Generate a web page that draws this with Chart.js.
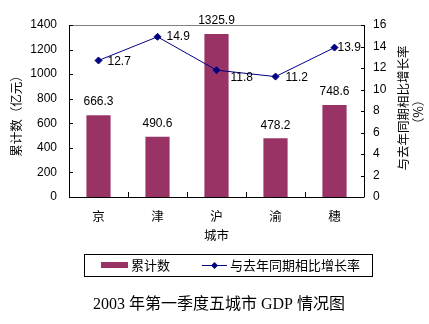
<!DOCTYPE html>
<html>
<head>
<meta charset="utf-8">
<script src="https://cdn.jsdelivr.net/npm/chart.js@4/dist/chart.umd.min.js"></script>
<style>
  html, body { margin: 0; padding: 0; background: #fff; }
  #c { display: block; }
</style>
</head>
<body>
<canvas id="c" width="429" height="324"></canvas>
<script>
// Five-city GDP, first quarter 2003
const cities = ['京', '津', '沪', '渝', '穗'];
const totals = [666.3, 490.6, 1325.9, 478.2, 748.6];      // 亿元
const growth = [12.7, 14.9, 11.8, 11.2, 13.9];            // %
const leftTicks = [0, 200, 400, 600, 800, 1000, 1200, 1400];
const rightTicks = [0, 2, 4, 6, 8, 10, 12, 14, 16];

const NUM_FONT = '"Liberation Sans", Arial, sans-serif';
const CJK_FONT = '"Noto Sans CJK SC", "Liberation Sans", sans-serif';
const BAR_COLOR = '#993366';
const LINE_COLOR = '#000080';

// label nudges for the growth-rate line (dx, dy from the point)
const lineLabelShift = [[9, 1], [9, 0], [14, 8], [10, 1], [3, 0]];

const decorations = {
  id: 'decorations',
  afterDraw(chart) {
    const ctx = chart.ctx;
    const a = chart.chartArea;
    const x = chart.scales.x, yl = chart.scales.y, yr = chart.scales.y1;
    ctx.save();

    // top border of the plot
    ctx.strokeStyle = '#808080';
    ctx.lineWidth = 1;
    ctx.beginPath();
    ctx.moveTo(a.left, a.top + 0.5);
    ctx.lineTo(a.right, a.top + 0.5);
    ctx.stroke();

    // axis lines and inward tick marks
    ctx.strokeStyle = '#000';
    ctx.beginPath();
    ctx.moveTo(a.left + 0.5, a.top);
    ctx.lineTo(a.left + 0.5, a.bottom + 0.5);
    ctx.lineTo(a.right + 0.5, a.bottom + 0.5);
    ctx.moveTo(a.right + 0.5, a.top);
    ctx.lineTo(a.right + 0.5, a.bottom);
    leftTicks.forEach(v => {
      const py = Math.round(yl.getPixelForValue(v)) + 0.5;
      ctx.moveTo(a.left, py); ctx.lineTo(a.left + 4, py);
    });
    rightTicks.forEach(v => {
      const py = Math.round(yr.getPixelForValue(v)) + 0.5;
      ctx.moveTo(a.right - 3, py); ctx.lineTo(a.right, py);
    });
    for (let i = 1; i < cities.length; i++) {
      const px = Math.round((x.getPixelForValue(i - 1) + x.getPixelForValue(i)) / 2) + 0.5;
      ctx.moveTo(px, a.bottom); ctx.lineTo(px, a.bottom - 5);
    }
    ctx.stroke();

    // value labels
    ctx.fillStyle = '#000';
    ctx.font = '12px ' + NUM_FONT;
    ctx.textBaseline = 'middle';
    ctx.textAlign = 'center';
    chart.getDatasetMeta(0).data.forEach((bar, i) => {
      ctx.fillText(totals[i].toFixed(1), bar.x, bar.y - 13);
    });
    ctx.textAlign = 'left';
    chart.getDatasetMeta(1).data.forEach((pt, i) => {
      const s = lineLabelShift[i];
      ctx.fillText(growth[i].toFixed(1), pt.x + s[0], pt.y + s[1]);
    });

    // axis titles
    const midY = (a.top + a.bottom) / 2;
    ctx.font = '12.5px ' + CJK_FONT;
    ctx.textAlign = 'center';
    ctx.save();
    ctx.translate(16, midY + 2);
    ctx.rotate(-Math.PI / 2);
    ctx.fillText('累计数（亿元）', 0, 0);
    ctx.restore();
    ctx.save();
    ctx.translate(403, midY - 3);
    ctx.rotate(-Math.PI / 2);
    ctx.fillText('与去年同期相比增长率', 0, 0);
    ctx.restore();
    ctx.save();
    ctx.translate(418, midY + 1);
    ctx.rotate(-Math.PI / 2);
    ctx.fillText('（%）', 0, 0);
    ctx.restore();
    ctx.fillText('城市', (a.left + a.right) / 2, 235);

    // legend box
    ctx.font = '13px ' + CJK_FONT;
    ctx.strokeStyle = '#000';
    ctx.strokeRect(84.5, 254.5, 288, 22);
    ctx.fillStyle = BAR_COLOR;
    ctx.fillRect(101, 262, 27, 6);
    ctx.fillStyle = '#000';
    ctx.textAlign = 'left';
    ctx.fillText('累计数', 131, 265.5);
    ctx.strokeStyle = LINE_COLOR;
    ctx.beginPath();
    ctx.moveTo(202, 265.5); ctx.lineTo(227, 265.5);
    ctx.stroke();
    ctx.fillStyle = LINE_COLOR;
    ctx.beginPath();
    ctx.moveTo(214.5, 262); ctx.lineTo(218, 265.5); ctx.lineTo(214.5, 269); ctx.lineTo(211, 265.5);
    ctx.closePath(); ctx.fill();
    ctx.fillStyle = '#000';
    ctx.fillText('与去年同期相比增长率', 230, 265.5);

    // chart title
    ctx.font = '16px "Liberation Serif", ' + CJK_FONT;
    ctx.textAlign = 'center';
    ctx.fillText('2003 年第一季度五城市 GDP 情况图', 219, 305);

    ctx.restore();
  }
};

new Chart(document.getElementById('c'), {
  data: {
    labels: cities,
    datasets: [
      {
        type: 'bar',
        label: '累计数',
        data: totals,
        yAxisID: 'y',
        backgroundColor: BAR_COLOR,
        borderWidth: 0,
        categoryPercentage: 1,
        barPercentage: 0.41,
        order: 2
      },
      {
        type: 'line',
        label: '与去年同期相比增长率',
        data: growth,
        yAxisID: 'y1',
        borderColor: LINE_COLOR,
        backgroundColor: LINE_COLOR,
        borderWidth: 1,
        tension: 0,
        pointStyle: 'rectRot',
        pointRadius: 3.5,
        pointHoverRadius: 3.5,
        order: 1
      }
    ]
  },
  options: {
    responsive: false,
    animation: false,
    events: [],
    layout: { padding: { top: 25, left: 0, right: 0, bottom: 0 } },
    plugins: { legend: { display: false }, tooltip: { enabled: false } },
    scales: {
      x: {
        type: 'category',
        offset: true,
        grid: { display: false, drawTicks: false },
        border: { display: false },
        ticks: { color: '#000', padding: 12, font: { family: CJK_FONT, size: 12.5 } },
        afterFit(s) { s.height = 127; }
      },
      y: {
        type: 'linear',
        position: 'left',
        min: 0, max: 1400,
        afterBuildTicks(s) { s.ticks = leftTicks.map(v => ({ value: v })); },
        grid: { display: false, drawTicks: false },
        border: { display: false },
        ticks: { color: '#000', padding: 12, font: { family: NUM_FONT, size: 12 }, callback: v => String(v) },
        afterFit(s) { s.width = 69; }
      },
      y1: {
        type: 'linear',
        position: 'right',
        min: 0, max: 16,
        afterBuildTicks(s) { s.ticks = rightTicks.map(v => ({ value: v })); },
        grid: { display: false, drawTicks: false },
        border: { display: false },
        ticks: { color: '#000', padding: 9, font: { family: NUM_FONT, size: 12 }, callback: v => String(v) },
        afterFit(s) { s.width = 65; }
      }
    }
  },
  plugins: [decorations]
});
</script>
</body>
</html>
